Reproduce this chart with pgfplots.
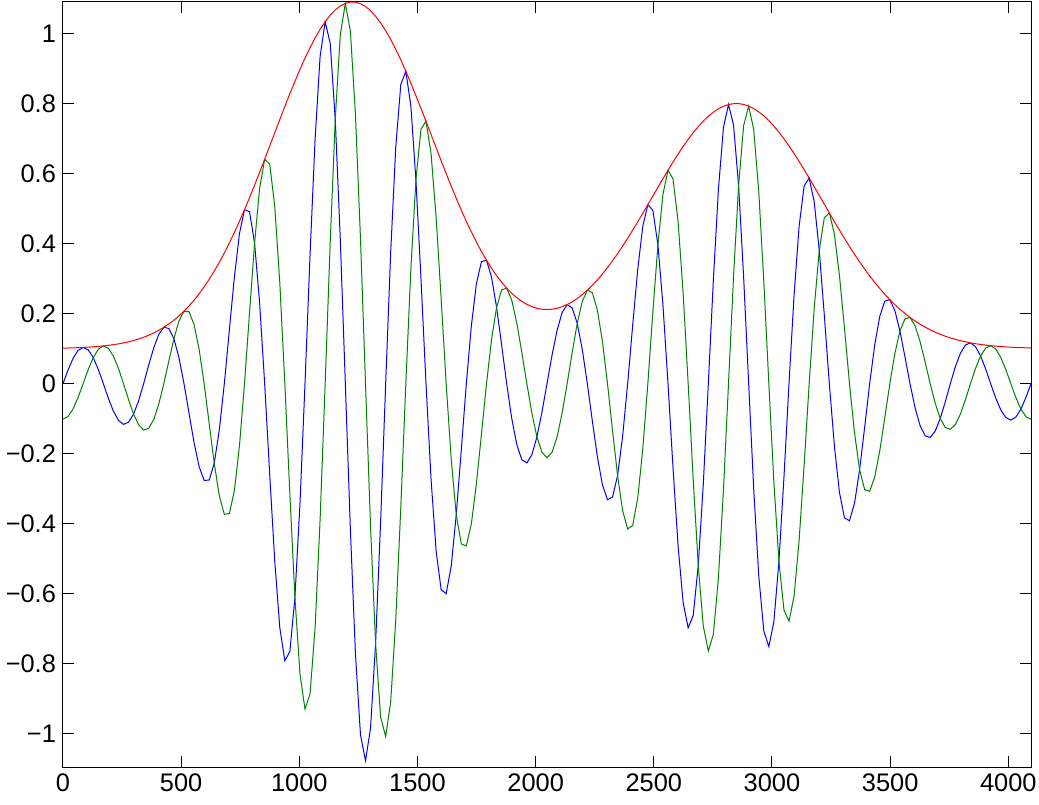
\documentclass[border=0pt]{standalone}
\usepackage{pgfplots}
\pgfplotsset{compat=1.18}
\usepackage{pgfplotstable}
\usepackage{fontspec}
\setmainfont{Liberation Sans}
\definecolor{mgreen}{rgb}{0,0.5,0}

\pgfplotstableread{
x b g r
0 0 -0.1014 0.1014
21.33 0.0389 -0.0940 0.1017
42.67 0.0723 -0.0723 0.1022
64 0.0949 -0.0393 0.1027
85.33 0.1034 0 0.1034
106.67 0.0963 0.0399 0.1042
128 0.0743 0.0743 0.1051
149.33 0.0407 0.0982 0.1063
170.67 0 0.1076 0.1076
192 -0.0418 0.1010 0.1093
213.33 -0.0786 0.0786 0.1112
234.67 -0.1049 0.0434 0.1135
256 -0.1163 0 0.1163
277.33 -0.1103 -0.0457 0.1194
298.67 -0.0871 -0.0871 0.1232
320 -0.0488 -0.1178 0.1275
341.33 0 -0.1325 0.1325
362.67 0.0529 -0.1277 0.1382
384 0.1024 -0.1024 0.1448
405.33 0.1407 -0.0583 0.1523
426.67 0.1609 0 0.1609
448 0.1575 0.0652 0.1705
469.33 0.1282 0.1282 0.1813
490.67 0.0740 0.1788 0.1935
512 0 0.2069 0.2069
533.33 -0.0850 0.2051 0.2220
554.67 -0.1687 0.1687 0.2386
576 -0.2372 0.0982 0.2567
597.33 -0.2765 0 0.2765
618.67 -0.2754 -0.1141 0.2981
640 -0.2273 -0.2273 0.3214
661.33 -0.1325 -0.3199 0.3463
682.67 0 -0.3733 0.3733
704 0.1538 -0.3712 0.4018
725.33 0.3053 -0.3053 0.4318
746.67 0.4284 -0.1775 0.4637
768 0.4969 0 0.4969
789.33 0.4909 0.2033 0.5313
810.67 0.4010 0.4010 0.5671
832 0.2310 0.5577 0.6036
853.33 0 0.6408 0.6408
874.67 -0.2597 0.6269 0.6786
896 -0.5066 0.5066 0.7165
917.33 -0.6967 0.2886 0.7541
938.67 -0.7916 0 0.7916
960 -0.7651 -0.3169 0.8281
981.33 -0.6105 -0.6105 0.8634
1002.67 -0.3435 -0.8292 0.8975
1024 0 -0.9295 0.9295
1045.33 0.3672 -0.8865 0.9595
1066.67 0.6980 -0.6980 0.9871
1088 0.9349 -0.3872 1.0119
1109.33 1.0337 0 1.0337
1130.67 0.9721 0.4027 1.0522
1152 0.7546 0.7546 1.0672
1173.33 0.4127 0.9964 1.0785
1194.67 0 1.0860 1.0860
1216 -0.4170 1.0067 1.0897
1237.33 -0.7703 0.7703 1.0893
1258.67 -1.0025 0.4152 1.0851
1280 -1.0770 0 1.0770
1301.33 -0.9840 -0.4076 1.0651
1322.67 -0.7421 -0.7421 1.0495
1344 -0.3944 -0.9521 1.0305
1365.33 0 -1.0082 1.0082
1386.67 0.3762 -0.9082 0.9830
1408 0.6753 -0.6753 0.9550
1429.33 0.8543 -0.3539 0.9247
1450.67 0.8922 0 0.8922
1472 0.7927 0.3283 0.8580
1493.33 0.5815 0.5815 0.8224
1514.67 0.3010 0.7266 0.7865
1536 0 0.7493 0.7493
1557.33 -0.2724 0.6575 0.7117
1578.67 -0.4767 0.4767 0.6741
1600 -0.5883 0.2437 0.6368
1621.33 -0.6000 0 0.6000
1642.67 -0.5212 -0.2159 0.5641
1664 -0.3742 -0.3742 0.5292
1685.33 -0.1897 -0.4579 0.4956
1706.67 0 -0.4634 0.4634
1728 0.1657 -0.4000 0.4330
1749.33 0.2857 -0.2857 0.4041
1770.67 0.3485 -0.1443 0.3772
1792 0.3523 0 0.3523
1813.33 0.3042 0.1260 0.3293
1834.67 0.2181 0.2181 0.3084
1856 0.1108 0.2676 0.2896
1877.33 0 0.2728 0.2728
1898.67 -0.0988 0.2385 0.2581
1920 -0.1736 0.1736 0.2455
1941.33 -0.2171 0.0899 0.2350
1962.67 -0.2265 0 0.2265
1984 -0.2031 -0.0841 0.2198
2005.33 -0.1522 -0.1522 0.2152
2026.67 -0.0813 -0.1962 0.2124
2048 0 -0.2116 0.2116
2069.33 0.0813 -0.1963 0.2125
2090.67 0.1522 -0.1522 0.2153
2112 0.2030 -0.0841 0.2197
2133.33 0.2259 0 0.2259
2154.67 0.2159 0.0894 0.2337
2176 0.1720 0.1720 0.2432
2197.33 0.0973 0.2349 0.2543
2218.67 0 0.2669 0.2669
2240 -0.1075 0.2595 0.2809
2261.33 -0.2096 0.2096 0.2964
2282.67 -0.2894 0.1199 0.3133
2304 -0.3315 0 0.3315
2325.33 -0.3242 -0.1343 0.3509
2346.67 -0.2626 -0.2626 0.3713
2368 -0.1503 -0.3629 0.3928
2389.33 0 -0.4152 0.4152
2410.67 0.1678 -0.4050 0.4384
2432 0.3268 -0.3268 0.4622
2453.33 0.4495 -0.1862 0.4865
2474.67 0.5111 0 0.5111
2496 0.4951 0.2051 0.5359
2517.33 0.3965 0.3965 0.5607
2538.67 0.2240 0.5407 0.5853
2560 0 0.6094 0.6094
2581.33 -0.2422 0.5847 0.6329
2602.67 -0.4635 0.4635 0.6555
2624 -0.6256 0.2592 0.6772
2645.33 -0.6977 0 0.6977
2666.67 -0.6621 -0.2743 0.7167
2688 -0.5191 -0.5191 0.7341
2709.33 -0.2869 -0.6927 0.7498
2730.67 0 -0.7636 0.7636
2752 0.2967 -0.7163 0.7753
2773.33 0.5550 -0.5550 0.7849
2794.67 0.7319 -0.3032 0.7922
2816 0.7971 0 0.7971
2837.33 0.7387 0.3060 0.7996
2858.67 0.5655 0.5655 0.7998
2880 0.3051 0.7367 0.7974
2901.33 0 0.7927 0.7927
2922.67 -0.3007 0.7259 0.7857
2944 -0.5489 0.5489 0.7763
2965.33 -0.7066 0.2927 0.7648
2986.67 -0.7512 0 0.7512
3008 -0.6796 -0.2815 0.7356
3029.33 -0.5079 -0.5079 0.7183
3050.67 -0.2676 -0.6462 0.6994
3072 0 -0.6790 0.6790
3093.33 0.2516 -0.6074 0.6574
3114.67 0.4489 -0.4489 0.6348
3136 0.5647 -0.2339 0.6112
3157.33 0.5871 0 0.5871
3178.67 0.5196 0.2152 0.5624
3200 0.3801 0.3801 0.5375
3221.33 0.1961 0.4735 0.5125
3242.67 0 0.4875 0.4875
3264 -0.1771 0.4276 0.4628
3285.33 -0.3101 0.3101 0.4385
3306.67 -0.3832 0.1587 0.4148
3328 -0.3917 0 0.3917
3349.33 -0.3412 -0.1413 0.3693
3370.67 -0.2459 -0.2459 0.3478
3392 -0.1253 -0.3024 0.3273
3413.33 0 -0.3077 0.3077
3434.67 0.1106 -0.2671 0.2891
3456 0.1921 -0.1921 0.2716
3477.33 0.2358 -0.0977 0.2552
3498.67 0.2399 0 0.2399
3520 0.2084 0.0863 0.2256
3541.33 0.1502 0.1502 0.2124
3562.67 0.0767 0.1851 0.2003
3584 0 0.1891 0.1891
3605.33 -0.0685 0.1653 0.1789
3626.67 -0.1200 0.1200 0.1697
3648 -0.1490 0.0617 0.1613
3669.33 -0.1537 0 0.1537
3690.67 -0.1357 -0.0562 0.1469
3712 -0.0996 -0.0996 0.1408
3733.33 -0.0518 -0.1251 0.1354
3754.67 0 -0.1306 0.1306
3776 0.0484 -0.1168 0.1264
3797.33 0.0867 -0.0867 0.1226
3818.67 0.1103 -0.0457 0.1194
3840 0.1165 0 0.1165
3861.33 0.1053 0.0436 0.1140
3882.67 0.0791 0.0791 0.1119
3904 0.0421 0.1016 0.1100
3925.33 0 0.1084 0.1084
3946.67 -0.0410 0.0989 0.1071
3968 -0.0749 0.0749 0.1059
3989.33 -0.0969 0.0401 0.1049
4010.67 -0.1041 0 0.1041
4032 -0.0955 -0.0396 0.1034
4053.33 -0.0727 -0.0727 0.1028
4074.67 -0.0391 -0.0945 0.1023
4096 0 -0.1019 0.1019
}\wave

\begin{document}
\begin{tikzpicture}
\begin{axis}[
  at={(0,0)}, anchor=south west,
  scale only axis,
  width=484pt, height=382.5pt,
  xmin=0, xmax=4096,
  ymin=-1.095, ymax=1.09,
  axis line style={line width=0.5pt},
  tick align=inside,
  major tick length=5.5pt,
  tick style={line width=0.5pt, black},
  xtick={0,500,1000,1500,2000,2500,3000,3500,4000},
  xticklabels={0,500,1000,1500,2000,2500,3000,3500,4000},
  ytick={-1,-0.8,-0.6,-0.4,-0.2,0,0.2,0.4,0.6,0.8,1},
  yticklabels={−1,−0.8,−0.6,−0.4,−0.2,0,0.2,0.4,0.6,0.8,1},
  ticklabel style={font=\fontsize{12.7}{14}\selectfont},
  clip=true,
]
\addplot[blue, line width=0.5pt] table[x=x, y=b] {\wave};
\addplot[mgreen, line width=0.5pt] table[x=x, y=g] {\wave};
\addplot[red, line width=0.5pt] table[x=x, y=r] {\wave};
\end{axis}
\pgfresetboundingbox
\path (-31.5pt,-18.5pt) rectangle (488pt,383.5pt);
\end{tikzpicture}
\end{document}
